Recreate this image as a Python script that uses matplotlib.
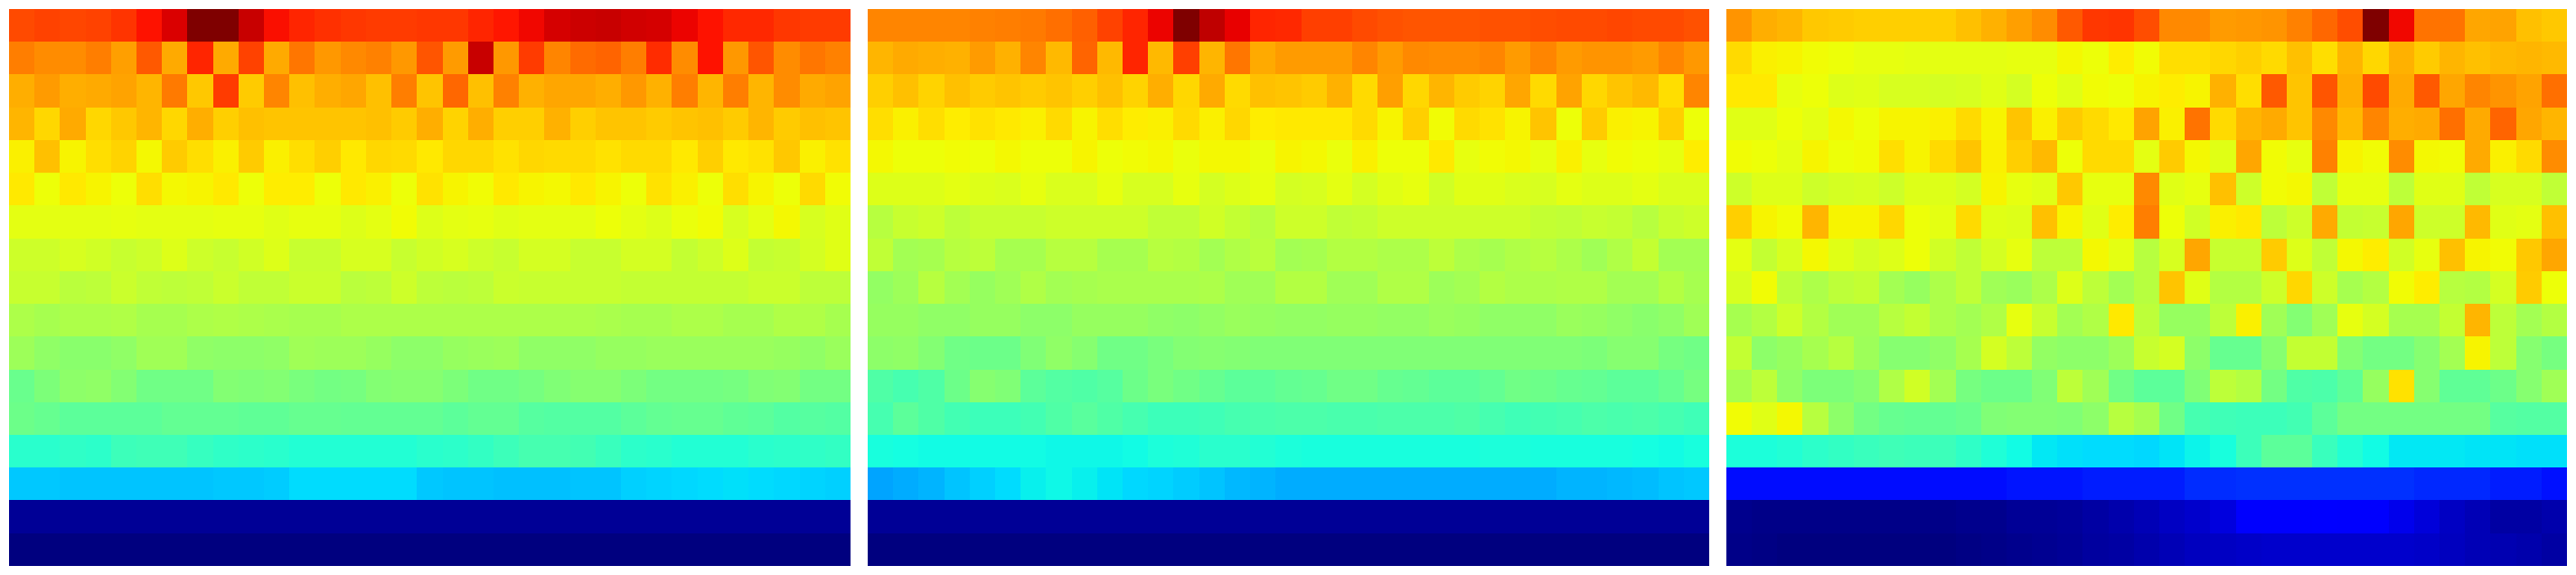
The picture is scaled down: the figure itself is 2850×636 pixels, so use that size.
import matplotlib
matplotlib.use("Agg")
import matplotlib.pyplot as plt
import numpy as np

# values, jet scale 0-1000
panel1 = [
    [830,838,834,838,855,889,920,1000,1000,934,893,868,859,848,846,846,848,851,870,885,902,924,930,934,927,922,906,889,864,864,851,846,846],
    [774,758,758,774,741,813,730,870,730,838,730,783,749,762,770,749,819,745,937,749,846,766,796,802,774,861,758,889,749,817,758,783,770],
    [724,745,724,728,736,715,779,698,846,694,766,707,724,732,707,774,702,800,707,770,719,732,732,724,749,719,774,715,774,715,758,728,736],
    [715,681,728,681,698,715,681,724,689,707,702,702,702,702,707,694,724,685,724,689,689,719,689,702,702,694,702,707,694,715,694,707,702],
    [656,707,650,675,685,648,694,672,656,694,656,672,689,664,681,677,664,681,681,668,681,677,677,668,677,677,664,689,664,668,698,656,668],
    [664,637,664,652,637,672,647,652,664,640,660,660,637,664,654,637,668,652,642,664,652,645,664,652,640,668,654,637,672,652,640,677,642],
    [627,627,627,627,632,627,627,627,632,632,622,632,632,618,627,642,618,627,632,622,627,627,627,637,627,618,635,642,613,627,645,613,622],
    [598,598,613,603,593,598,618,598,593,603,618,593,593,613,613,593,603,613,598,593,608,608,593,593,608,608,588,598,618,588,593,608,622],
    [590,590,575,580,595,585,580,585,595,585,585,597,597,575,580,600,580,575,580,597,590,590,590,590,588,588,588,588,588,597,597,580,580],
    [559,554,559,559,564,554,554,559,564,559,556,554,554,562,562,562,562,559,562,559,562,559,559,556,554,554,562,562,552,552,564,564,554],
    [540,527,517,517,527,545,545,527,520,520,527,545,542,540,532,522,522,535,537,542,527,527,527,535,535,537,537,537,537,537,535,527,537],
    [478,500,520,527,508,486,486,486,510,505,510,498,491,496,508,515,515,503,486,486,496,505,515,515,500,491,491,491,496,505,510,491,491],
    [484,475,462,462,462,462,469,469,469,467,467,475,475,469,469,469,469,462,469,469,457,452,452,452,462,472,475,475,467,462,452,455,452],
    [401,399,408,403,423,428,428,415,410,403,399,394,394,394,394,394,399,403,413,423,435,435,430,418,403,399,394,394,391,399,403,408,413],
    [321,321,317,317,317,317,317,317,321,321,325,341,341,341,341,341,321,317,317,313,313,313,317,317,329,333,337,341,345,341,337,333,329],
    [23,23,23,23,23,23,23,23,23,23,23,23,23,23,23,23,23,23,23,23,23,23,23,23,23,23,23,23,23,23,23,23,23],
    [0,0,0,0,0,0,0,0,0,0,0,0,0,0,0,0,0,0,0,0,0,0,0,0,0,0,0,0,0,0,0,0,0],
]

panel2 = [
    [766,766,766,766,770,774,779,791,808,838,868,906,1000,944,910,868,864,842,842,830,821,817,817,817,821,821,825,830,830,834,830,830,821],
    [715,728,724,719,745,719,766,711,804,711,868,711,842,715,783,728,745,745,745,766,745,762,758,758,766,745,766,745,753,753,745,766,749],
    [689,707,685,707,694,702,694,702,689,707,685,724,681,728,677,707,702,694,719,677,741,681,715,694,685,732,677,736,681,702,711,672,766],
    [672,656,672,660,668,664,656,677,652,672,660,656,677,656,681,660,664,664,664,677,652,689,642,677,668,652,702,639,694,656,652,689,639],
    [647,639,639,642,639,647,639,639,652,637,642,647,634,647,647,634,652,647,634,654,639,639,664,632,642,645,632,654,632,642,639,632,660],
    [618,620,620,627,618,615,630,615,615,630,613,613,632,608,618,630,608,613,627,608,622,630,603,622,622,615,613,625,620,620,625,615,615],
    [574,593,598,579,593,593,593,598,598,598,598,583,583,603,588,574,598,598,583,588,598,598,598,598,598,598,588,583,593,588,574,593,598],
    [583,550,554,574,579,554,554,574,574,554,554,574,569,550,564,577,550,554,569,569,559,559,579,559,554,564,574,559,545,564,588,550,550],
    [528,540,574,550,535,545,564,550,554,556,556,556,556,559,545,545,569,569,545,545,564,564,542,550,569,559,559,564,564,550,550,569,554],
    [535,535,525,525,535,535,520,520,535,535,535,525,522,530,537,535,530,530,535,535,530,530,537,535,527,527,527,537,535,525,517,525,545],
    [522,527,508,486,481,481,505,527,513,488,488,498,510,513,510,505,505,505,505,505,505,505,505,505,505,505,505,505,503,513,513,496,486],
    [447,437,449,481,515,505,462,452,449,454,481,498,486,474,464,462,472,476,486,486,476,472,464,462,472,486,484,476,469,464,462,476,496],
    [437,462,449,433,423,423,430,447,460,447,435,423,423,428,435,440,442,442,440,440,442,442,442,447,435,428,430,435,442,440,442,435,428],
    [379,376,374,372,372,372,372,369,369,369,374,384,389,399,399,391,384,381,379,379,379,379,379,381,384,384,381,381,381,379,376,374,379],
    [286,294,302,317,329,341,360,370,360,348,337,333,325,317,305,302,294,294,294,294,294,294,294,294,294,294,294,302,302,305,309,317,321],
    [23,23,23,23,23,23,23,23,23,23,23,23,23,23,23,23,23,23,23,23,23,23,23,23,23,23,23,23,23,23,23,23,23],
    [0,0,0,0,0,0,0,0,0,0,0,0,0,0,0,0,0,0,0,0,0,0,0,0,0,0,0,0,0,0,0,0,0],
]

panel3 = [
    [753,724,715,698,694,689,689,689,689,707,719,741,758,813,851,855,825,762,762,745,749,753,770,800,825,1000,899,787,787,732,736,707,698],
    [677,656,652,642,637,632,632,627,627,627,627,630,630,647,637,660,642,672,672,681,689,677,707,672,715,681,719,694,715,707,711,715,711],
    [664,664,632,637,618,622,613,613,608,613,622,608,637,622,642,637,652,660,652,719,672,813,702,817,724,830,728,813,732,766,753,736,791],
    [622,622,637,627,647,637,652,652,654,677,652,702,656,694,677,664,736,656,787,677,715,728,702,762,711,766,724,728,791,728,804,732,715],
    [642,637,627,652,637,642,672,652,677,702,656,689,711,637,677,677,627,694,647,622,732,642,632,770,652,642,758,647,642,728,656,677,758],
    [598,618,618,598,608,613,598,620,620,608,652,632,622,698,632,632,762,622,632,707,598,642,647,583,632,632,579,622,622,583,613,613,583],
    [689,652,642,715,652,652,681,637,627,677,622,618,707,652,622,660,774,637,603,654,664,579,598,728,588,593,732,598,598,711,622,627,707],
    [627,588,613,647,622,608,618,637,603,583,608,632,579,579,647,627,574,613,732,593,593,694,618,583,647,660,603,632,707,652,642,698,732],
    [613,642,579,559,579,588,550,535,559,583,545,537,559,618,579,550,574,702,622,569,569,598,681,598,554,569,642,660,574,569,608,694,637],
    [554,569,598,569,545,545,574,588,559,550,564,632,593,550,564,664,579,535,535,579,654,545,510,545,632,608,554,554,588,715,579,550,569],
    [588,520,535,554,574,540,515,515,525,554,608,579,530,520,520,540,593,608,520,476,476,515,588,588,510,491,491,515,550,652,579,515,496],
    [554,579,525,500,500,515,564,603,550,496,481,481,505,579,545,486,462,462,505,579,569,491,447,442,467,535,668,515,467,467,481,515,545],
    [642,622,647,574,520,491,476,469,469,479,505,510,510,505,520,574,554,486,437,428,423,423,433,462,491,491,491,491,491,491,457,452,452],
    [384,384,394,403,413,418,428,423,423,408,389,372,352,345,341,341,337,348,365,379,423,462,462,418,394,374,354,352,352,348,348,345,345],
    [139,139,139,139,139,139,139,139,139,139,139,148,148,148,156,156,156,156,170,170,172,172,172,172,172,172,172,165,165,165,156,156,143],
    [12,8,8,8,8,8,8,8,8,12,15,20,22,25,32,40,50,60,70,85,110,112,112,118,112,110,95,80,60,50,35,35,40],
    [10,5,2,2,2,2,2,2,2,6,10,12,18,22,28,35,40,48,55,60,65,68,68,68,68,68,68,65,55,50,45,40,35],
]

W, H = 2850, 636
lefts = [10, 960, 1910]

fig = plt.figure(figsize=(W / 100, H / 100), dpi=100)
for left, panel in zip(lefts, [panel1, panel2, panel3]):
    ax = fig.add_axes([left / W, 10 / H, 930 / W, 616 / H])
    ax.imshow(np.array(panel), cmap="jet", vmin=0, vmax=1000, aspect="auto", interpolation="nearest")
    ax.axis("off")

fig.savefig("out.png", dpi=100)
